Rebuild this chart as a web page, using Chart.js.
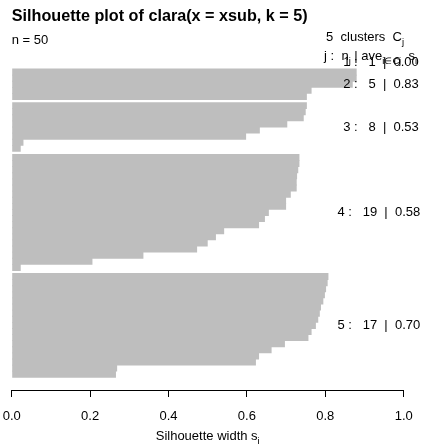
<!DOCTYPE html>
<html>
<head>
<meta charset="utf-8">
<script src="https://cdn.jsdelivr.net/npm/chart.js@4.4.1/dist/chart.umd.min.js"></script>
<style>
  html, body { margin: 0; padding: 0; background: #ffffff; }
  #wrap { width: 422px; height: 444px; }
</style>
</head>
<body>
<div id="wrap"><canvas id="c" width="422" height="444"></canvas></div>
<script>
// ---- data ----
const clusterIds   = [1, 2, 3, 4, 5];
const clusterSizes = [1, 5, 8, 19, 17];
const clusterAvgs  = [0.00, 0.83, 0.53, 0.58, 0.70];
const widthsC1 = [0.00];
const widthsC2 = [0.880, 0.880, 0.870, 0.765, 0.753];
const widthsC3 = [0.753, 0.750, 0.745, 0.703, 0.633, 0.598, 0.030, 0.023];
const widthsC4 = [0.734, 0.734, 0.731, 0.728, 0.727, 0.727, 0.712, 0.700, 0.700, 0.656,
                  0.646, 0.631, 0.542, 0.521, 0.500, 0.473, 0.336, 0.206, 0.023];
const widthsC5 = [0.808, 0.806, 0.802, 0.799, 0.795, 0.789, 0.786, 0.782, 0.776, 0.765,
                  0.757, 0.697, 0.663, 0.631, 0.623, 0.269, 0.266];
const xTickValues = [0.0, 0.2, 0.4, 0.6, 0.8, 1.0];
const nObs = 50;
const titleText = 'Silhouette plot of clara(x = xsub, k = 5)';

// ---- build bar rows (bar index along the category axis, half-bar gap between clusters) ----
const clusterWidths = [widthsC1, widthsC2, widthsC3, widthsC4, widthsC5];
const points = [];
const clusterCenters = [];
let idx = 0;
clusterWidths.forEach((arr, c) => {
  const ys = [];
  arr.forEach(w => {
    const yv = idx + 0.5 * c + 0.5;
    points.push({ x: w, y: yv });
    ys.push(yv);
    idx++;
  });
  clusterCenters.push(ys.reduce((a, b) => a + b, 0) / ys.length);
});

const FAM = '"Liberation Sans", Arial, Helvetica, sans-serif';
const BASE = 13;

function drawRich(ctx, parts, x, y, align, size) {
  const widths = parts.map(([t, sub]) => {
    ctx.font = (sub ? size * 0.72 : size) + 'px ' + FAM;
    return ctx.measureText(t).width;
  });
  const total = widths.reduce((a, b) => a + b, 0);
  let cx = align === 'right' ? x - total : (align === 'center' ? x - total / 2 : x);
  parts.forEach(([t, sub], i) => {
    ctx.font = (sub ? size * 0.72 : size) + 'px ' + FAM;
    ctx.fillText(t, cx, sub ? y + size * 0.28 : y);
    cx += widths[i];
  });
  return total;
}

const annotate = {
  id: 'annotate',
  afterDraw(chart) {
    const ctx = chart.ctx;
    const xs = chart.scales.x, ys = chart.scales.y;
    ctx.save();
    ctx.fillStyle = '#000';
    ctx.textBaseline = 'alphabetic';
    ctx.textAlign = 'left';
    // main title
    ctx.font = 'bold 16.2px ' + FAM;
    ctx.fillText(titleText, 11.7, 21);
    // n = 50
    ctx.font = BASE + 'px ' + FAM;
    ctx.fillText('n = ' + nObs, 11.7, 44);
    // legend header
    drawRich(ctx, [[clusterIds.length + '  clusters  C', false], ['j', true]], 404, 41, 'right', BASE);
    drawRich(ctx, [['j :  n', false], ['j', true], [' | ave', false], ['i\u2208Cj', true], ['  s', false], ['i', true]], 417, 60, 'right', BASE);
    // per-cluster labels
    clusterIds.forEach((j, c) => {
      const label = j + ' :   ' + clusterSizes[c] + '  |  ' + clusterAvgs[c].toFixed(2);
      ctx.font = BASE + 'px ' + FAM;
      const w = ctx.measureText(label).width;
      const px = xs.getPixelForValue(1) - 0.8 * w;
      const py = ys.getPixelForValue(clusterCenters[c]);
      ctx.textBaseline = 'middle';
      ctx.fillText(label, px, py);
      ctx.textBaseline = 'alphabetic';
    });
    // x-axis title
    const xc = (xs.left + xs.right) / 2;
    drawRich(ctx, [['Silhouette width s', false], ['i', true]], xc, 440, 'center', BASE);
    ctx.restore();
  }
};

new Chart(document.getElementById('c'), {
  type: 'bar',
  data: {
    datasets: [{
      data: points,
      backgroundColor: '#bebebe',
      borderWidth: 0,
      barPercentage: 1.14,
      categoryPercentage: 1.0
    }]
  },
  options: {
    indexAxis: 'y',
    responsive: false,
    maintainAspectRatio: false,
    animation: false,
    devicePixelRatio: 1,
    layout: { padding: { left: 11.7, right: 18.3, top: 0, bottom: 0 } },
    plugins: {
      legend: { display: false },
      tooltip: { enabled: false },
      title: { display: false }
    },
    scales: {
      x: {
        type: 'linear',
        position: 'bottom',
        min: 0,
        max: 1,
        offset: false,
        afterFit: s => { s.height = 54; s.paddingLeft = 0; s.paddingRight = 0; },
        afterBuildTicks: s => { s.ticks = xTickValues.map(v => ({ value: v })); },
        grid: { drawOnChartArea: false, drawTicks: true, tickLength: 7, color: '#000', lineWidth: 1, offset: false },
        border: { display: true, color: '#000', width: 1 },
        ticks: {
          color: '#000',
          font: { family: FAM, size: BASE },
          padding: 12,
          maxRotation: 0,
          autoSkip: false,
          callback: v => Number(v).toFixed(1)
        }
      },
      y: {
        type: 'linear',
        reverse: true,
        min: -9.8,
        max: 54.08,
        offset: false,
        grid: { offset: false },
        display: false
      }
    }
  },
  plugins: [annotate]
});
</script>
</body>
</html>
